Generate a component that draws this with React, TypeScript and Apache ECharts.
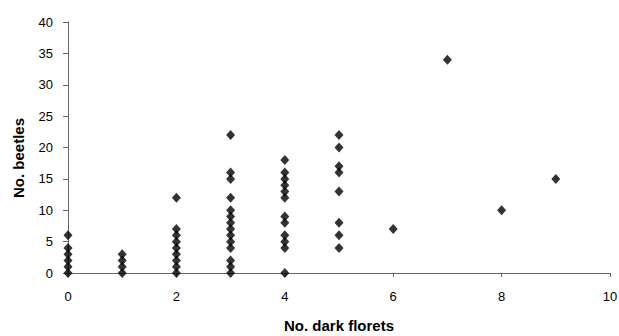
import React, { useEffect, useRef } from "react";
import * as echarts from "echarts";

const xTicks = [0, 2, 4, 6, 8, 10];
const yTicks = [0, 5, 10, 15, 20, 25, 30, 35, 40];

// dark florets per flower head -> beetle counts observed
const florets0 = [0, 1, 2, 3, 4, 6];
const florets1 = [0, 1, 2, 3];
const florets2 = [0, 1, 2, 3, 4, 5, 6, 7, 12];
const florets3 = [0, 1, 2, 4, 5, 6, 7, 8, 9, 10, 12, 15, 16, 22];
const florets4 = [0, 4, 5, 6, 8, 9, 12, 13, 14, 15, 16, 18];
const florets5 = [4, 6, 8, 13, 16, 17, 20, 22];
const florets6 = [7];
const florets7 = [34];
const florets8 = [10];
const florets9 = [15];

const groups = [florets0, florets1, florets2, florets3, florets4, florets5, florets6, florets7, florets8, florets9];

export default function App() {
  const ref = useRef<HTMLDivElement>(null);
  useEffect(() => {
    if (!ref.current) return;
    const chart = echarts.init(ref.current, undefined, { renderer: "svg" });
    const data: number[][] = [];
    groups.forEach((g, x) => g.forEach((y) => data.push([x, y])));
    const font = "Liberation Sans, Arial, sans-serif";
    chart.setOption({
      animation: false,
      backgroundColor: "#fff",
      grid: { left: 68, right: 9, top: 22, bottom: 63, outerBoundsMode: "none" },
      xAxis: {
        type: "value",
        min: xTicks[0],
        max: xTicks[xTicks.length - 1],
        interval: 2,
        name: "No. dark florets",
        nameLocation: "middle",
        nameGap: 45,
        nameTextStyle: { color: "#000", fontFamily: font, fontWeight: "bold", fontSize: 15 },
        axisLine: { show: true, lineStyle: { color: "#666", width: 1 } },
        axisTick: { show: true, length: 4, lineStyle: { color: "#666" } },
        axisLabel: { color: "#000", fontFamily: font, fontSize: 13, margin: 17 },
        splitLine: { show: false },
      },
      yAxis: {
        type: "value",
        min: yTicks[0],
        max: yTicks[yTicks.length - 1],
        interval: 5,
        axisLine: { show: true, lineStyle: { color: "#666", width: 1 } },
        axisTick: { show: true, length: 5, lineStyle: { color: "#666" } },
        axisLabel: { color: "#000", fontFamily: font, fontSize: 13, margin: 15 },
        splitLine: { show: false },
      },
      graphic: [
        {
          type: "text",
          x: 18,
          y: 158,
          rotation: Math.PI / 2,
          style: {
            text: "No. beetles",
            fill: "#000",
            font: "bold 15px " + font,
            align: "center",
            verticalAlign: "middle",
          },
        },
      ],
      series: [
        {
          type: "scatter",
          symbol: "diamond",
          symbolSize: [9, 10],
          itemStyle: { color: "#000" },
          data,
        },
      ],
    });
    return () => chart.dispose();
  }, []);
  return (
    <div
      ref={ref}
      style={{ position: "fixed", left: 0, top: 0, width: 619, height: 336, background: "#fff" }}
    />
  );
}
